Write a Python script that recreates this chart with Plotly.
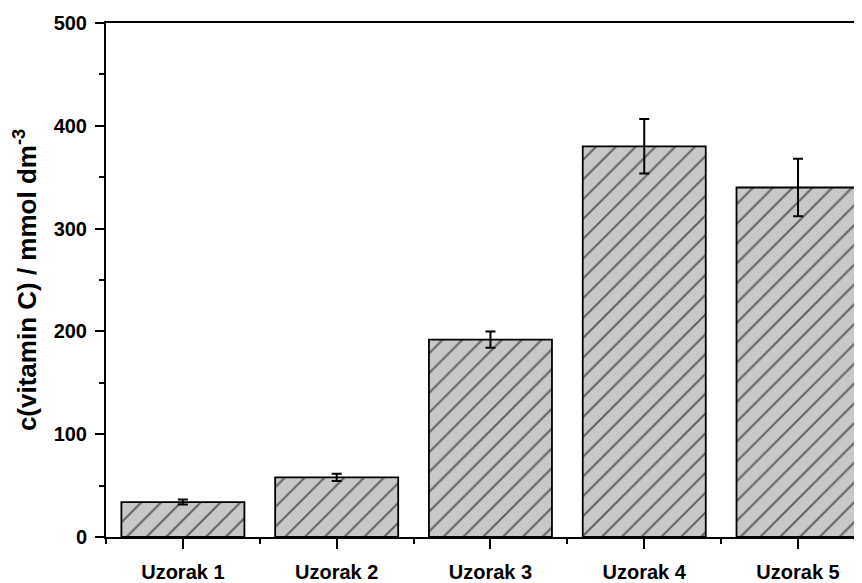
import plotly.graph_objects as go

# Data
samples = ["Uzorak 1", "Uzorak 2", "Uzorak 3", "Uzorak 4", "Uzorak 5"]
positions = [0, 1, 2, 3, 4]
vitamin_c = [34, 58, 192, 380, 340]
vitamin_c_err = [2.5, 3.5, 8, 26.5, 28]
y_ticks = [0, 100, 200, 300, 400, 500]

font = dict(family="Arial, Liberation Sans, sans-serif", size=20, color="black")

fig = go.Figure(go.Bar(
    x=positions,
    y=vitamin_c,
    width=0.8,
    marker=dict(
        color="#c8c8c8",
        line=dict(color="black", width=1.8),
        pattern=dict(shape="/", size=14, solidity=0.15,
                     fgcolor="black", bgcolor="#c8c8c8"),
    ),
    error_y=dict(type="data", array=vitamin_c_err, visible=True,
                 color="black", thickness=2, width=5),
))

# the page body has an 8px margin, so the figure is sized to fit inside it
fig.update_layout(
    width=854, height=575,
    margin=dict(l=98, r=0, t=15, b=46),
    paper_bgcolor="white", plot_bgcolor="white",
    showlegend=False,
    font=font,
)

fig.update_xaxes(
    range=[-0.5, 4.416],
    tickvals=positions,
    ticktext=["<b>%s</b>" % s for s in samples],
    ticks="outside", ticklen=10, tickwidth=1.8, tickcolor="black",
    minor=dict(dtick=0.5, tick0=0, ticks="outside", ticklen=5,
               tickwidth=1.8, tickcolor="black"),
    showline=True, linecolor="black", linewidth=2, mirror=True,
    showgrid=False, zeroline=False,
    ticklabelstandoff=6,
    tickfont=dict(size=20),
    automargin=False,
)

fig.update_yaxes(
    range=[0, 500],
    tickvals=y_ticks,
    ticktext=["<b>%d</b>" % v for v in y_ticks],
    ticks="outside", ticklen=9, tickwidth=1.8, tickcolor="black",
    minor=dict(dtick=50, ticks="outside", ticklen=5,
               tickwidth=1.8, tickcolor="black"),
    showline=True, linecolor="black", linewidth=2,
    showgrid=False, zeroline=False,
    ticklabelstandoff=4,
    tickfont=dict(size=20),
    title=dict(text="<b>c(vitamin C) / mmol dm<sup>-3</sup></b>",
               font=dict(size=26), standoff=10),
    automargin=False,
)

fig.write_html("out.html")
